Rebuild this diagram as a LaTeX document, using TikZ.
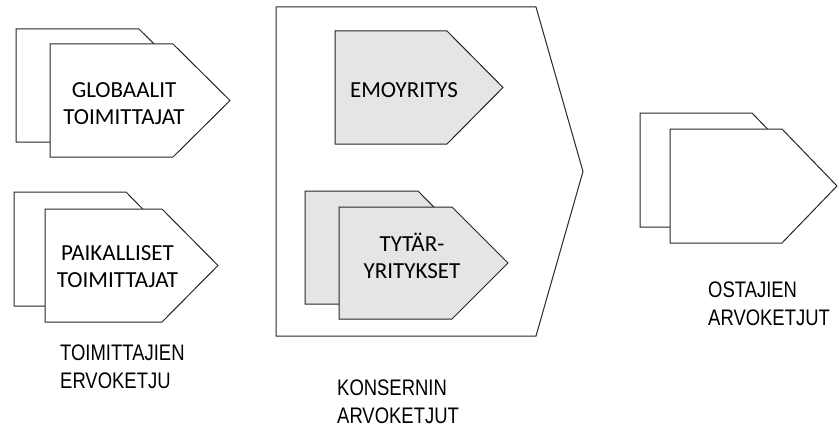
\documentclass[tikz,border=0pt]{standalone}
\usepackage{fontspec}
\setmainfont{Carlito}
\newfontfamily\narrowfont[FakeStretch=0.82]{Liberation Sans}
\tikzset{
  chev/.style={draw=black!85, line width=1pt, line join=miter, fill=white},
  chevgray/.style={chev, fill=black!10},
  % multi-line labels: the base anchor sits on the baseline of the last line
  boxtext/.style={font=\fontsize{23}{27}\selectfont, align=center, anchor=base, inner sep=0pt, text=black},
  captext/.style={font=\narrowfont\fontsize{22.5}{27.5}\selectfont, align=left, anchor=base west, inner sep=0pt, text=black},
}
% #1 style, (#2,#3) top-left corner, #4 total width, #5 height, #6 point length
\newcommand\valuechevron[6]{%
  \path[#1] (#2,#3) -- ++({#4-#6},0) -- ++(#6,{#5/2}) -- ++(-#6,{#5/2}) -- ++({-(#4-#6)},0) -- cycle;}
\begin{document}
\begin{tikzpicture}[x=1pt,y=-1pt]
\useasboundingbox (0,0) rectangle (838,428);
% suppliers
\valuechevron{chev}{16}{29}{180}{113}{57}
\valuechevron{chev}{50}{44}{180}{113}{57}
\valuechevron{chev}{14}{192}{168}{114}{56}
\valuechevron{chev}{45}{209}{173}{113}{56}
% group
\valuechevron{chev}{276}{7}{307}{329}{47}
\valuechevron{chevgray}{335}{31}{168}{113}{56}
\valuechevron{chevgray}{305}{191}{169}{113}{56}
\valuechevron{chevgray}{339}{207}{169}{112}{56}
% buyers
\valuechevron{chev}{640}{113}{167}{114}{55}
\valuechevron{chev}{670}{129}{167}{114}{55}
% labels
\node[boxtext] (glob) at (124,124) {GLOBAALIT\\TOIMITTAJAT};
\node[boxtext] (paik) at (117.5,287.5) {PAIKALLISET\\TOIMITTAJAT};
\node[boxtext] (emo) at (404,97) {EMOYRITYS};
\node[boxtext] (tyt) at (412,278) {TYTÄR-\\YRITYKSET};
\node[captext] (toim) at (60,388) {TOIMITTAJIEN\\ERVOKETJU};
\node[captext] (kons) at (337,423) {KONSERNIN\\ARVOKETJUT};
\node[captext] (osta) at (708,325) {OSTAJIEN\\ARVOKETJUT};
\end{tikzpicture}
\end{document}
